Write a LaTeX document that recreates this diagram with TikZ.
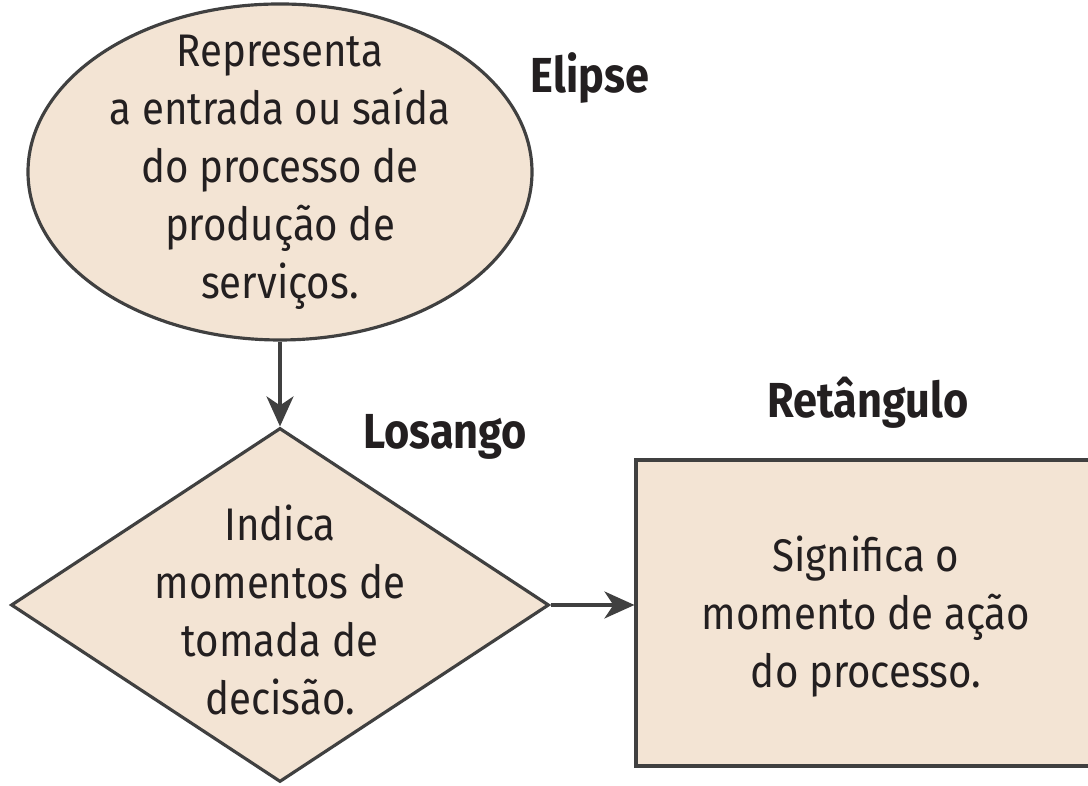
\documentclass[tikz,border=0pt]{standalone}
\usepackage{fontspec}
\setmainfont{Fira Sans}[FakeStretch=0.88]
\usetikzlibrary{shapes.geometric,arrows.meta}
\definecolor{bege}{HTML}{F3E4D4}
\definecolor{borda}{HTML}{404040}
\definecolor{texto}{HTML}{231F20}
\begin{document}
\begin{tikzpicture}[
  forma/.style={draw=borda, fill=bege, line width=0.9pt, inner sep=0pt},
  texto/.style={align=center, text=texto, inner sep=0pt,
    font=\fontsize{13}{16.5}\selectfont},
  titulo/.style={text=texto, font=\fontsize{14}{16}\selectfont\bfseries},
  seta/.style={draw=borda, line width=0.9pt,
    -{Stealth[length=0.3cm, width=0.27cm, inset=0.09cm]}}
]
\path[use as bounding box, clip] (0,0) rectangle (10.88,7.86);
% formas
\node[forma, ellipse, minimum width=5.04cm, minimum height=3.36cm,
  label={[texto]center:{Representa\\a entrada ou saída\\do processo de\\produção de\\serviços.}}]
  (elipse) at (2.80,6.14) {};
\node[forma, diamond, minimum width=5.38cm, minimum height=3.54cm,
  label={[texto, yshift=-0.05cm]center:{Indica\\momentos de\\tomada de\\decisão.}}]
  (losango) at (2.80,1.81) {};
\node[forma, rectangle, minimum width=4.60cm, minimum height=3.06cm,
  label={[texto, yshift=-0.04cm]center:{Significa o\\momento de ação\\do processo.}}]
  (retangulo) at (8.66,1.73) {};
% rótulos
\node[titulo] (telipse) at (5.90,7.08) {Elipse};
\node[titulo] (tlosango) at (4.45,3.49) {Losango};
\node[titulo] (tretangulo) at (8.68,3.83) {Retângulo};
% setas
\draw[seta] (elipse.south) -- (losango.north);
\draw[seta] (losango.east) -- (losango.east -| retangulo.west);
\end{tikzpicture}
\end{document}
